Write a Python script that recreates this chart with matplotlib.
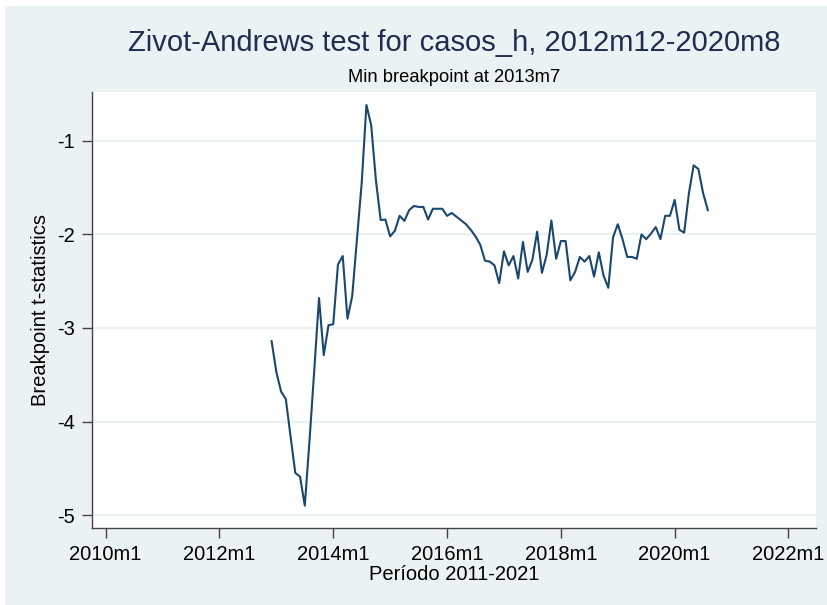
import numpy as np
import matplotlib
matplotlib.use('Agg')
import matplotlib.pyplot as plt
from matplotlib.patches import Rectangle

plt.rcParams['font.family'] = ['Liberation Sans', 'DejaVu Sans']

# monthly breakpoint t-statistics, 2012m12 .. 2020m8
start_year, start_month = 2012, 12
tstats = [
    -3.14, -3.47, -3.68, -3.76, -4.16, -4.55, -4.59, -4.90, -4.20, -3.45,
    -2.68, -3.29, -2.97, -2.96, -2.32, -2.23, -2.90, -2.66, -2.05, -1.45,
    -0.615, -0.83, -1.42, -1.845, -1.84, -2.02, -1.96, -1.80, -1.855, -1.74,
    -1.695, -1.705, -1.705, -1.84, -1.725, -1.725, -1.725, -1.80, -1.77, -1.81,
    -1.85, -1.89, -1.95, -2.02, -2.11, -2.28, -2.29, -2.33, -2.52, -2.18,
    -2.33, -2.23, -2.47, -2.08, -2.40, -2.27, -1.97, -2.41, -2.22, -1.85,
    -2.26, -2.07, -2.07, -2.49, -2.40, -2.24, -2.29, -2.23, -2.45, -2.19,
    -2.44, -2.57, -2.03, -1.89, -2.05, -2.24, -2.24, -2.26, -2.00, -2.05,
    -1.99, -1.92, -2.05, -1.80, -1.80, -1.63, -1.95, -1.98, -1.56, -1.26,
    -1.30, -1.56, -1.74,
]
tick_years = [2010, 2012, 2014, 2016, 2018, 2020, 2022]
ytick_vals = [-5, -4, -3, -2, -1]

title = 'Zivot-Andrews test for casos_h, 2012m12-2020m8'
subtitle = 'Min breakpoint at 2013m7'
xlab = 'Período 2011-2021'
ylab = 'Breakpoint t-statistics'

BG = '#eaf2f3'
LINE = '#1a476f'

# months counted from 2010m1
x0 = (start_year - 2010) * 12 + (start_month - 1)
x = np.arange(x0, x0 + len(tstats))
xticks = [(y - 2010) * 12 for y in tick_years]

fig = plt.figure(figsize=(8.28, 6.05), dpi=100)
fig.patch.set_facecolor('white')
fig.patches.append(Rectangle((5 / 828, 0), 823 / 828, 599 / 605,
                             transform=fig.transFigure, facecolor=BG,
                             edgecolor='none', zorder=-10))

ax = fig.add_axes([92 / 828, 77 / 605, 724 / 828, 436 / 605])
ax.set_facecolor('white')
ax.plot(x, tstats, color=LINE, lw=1.5, zorder=3)

ax.set_xlim(-2.87, 149.8)
ax.set_ylim(-5.139, -0.476)
ax.set_xticks(xticks)
ax.set_xticklabels(['%dm1' % y for y in tick_years])
ax.set_yticks(ytick_vals)
ax.set_yticklabels([str(v) for v in ytick_vals])
ax.yaxis.grid(True, color=BG, lw=1.5, zorder=0)
ax.set_axisbelow(True)

for s in ['top', 'right']:
    ax.spines[s].set_visible(False)
for s in ['left', 'bottom']:
    ax.spines[s].set_color('#444444')
    ax.spines[s].set_linewidth(1.0)
ax.tick_params(axis='both', colors='#444444', labelcolor='black',
               labelsize=14.5, length=7, width=1.0, pad=5)

fig.text(454 / 828, 1 - 43 / 605, title, ha='center', va='center',
         fontsize=21, color='#1f2d4f')
fig.text(454 / 828, 1 - 78 / 605, subtitle, ha='center', va='center',
         fontsize=13.2, color='black')
fig.text(454 / 828, 1 - 574 / 605, xlab, ha='center', va='center',
         fontsize=14.5, color='black')
fig.text(41 / 828, 1 - 310 / 605, ylab, ha='center', va='center',
         rotation=90, fontsize=14.5, color='black')

fig.savefig('out.png', dpi=100, facecolor=fig.get_facecolor())
